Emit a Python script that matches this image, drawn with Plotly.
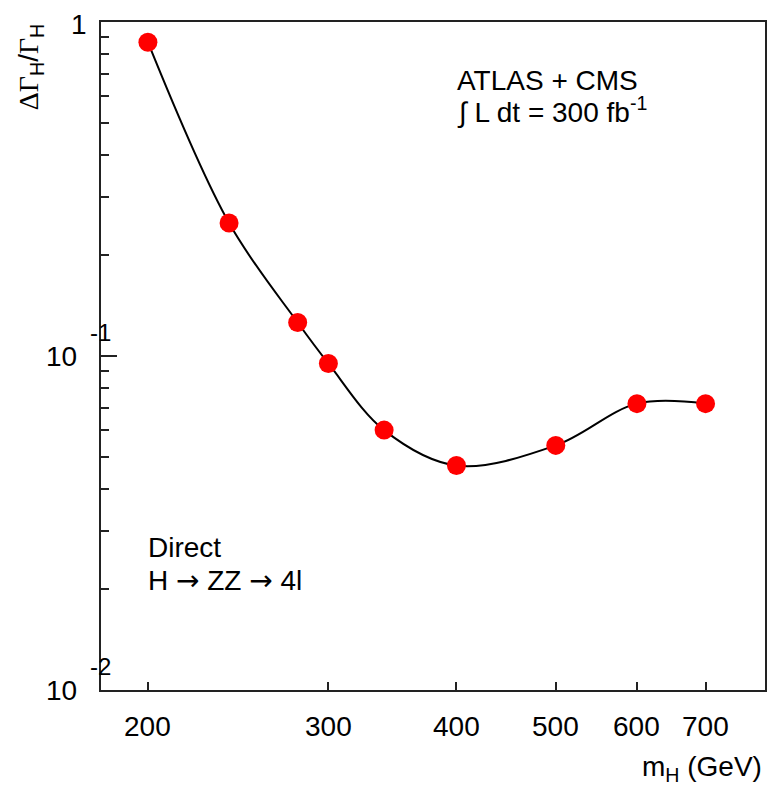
import math
import plotly.graph_objects as go

# ---- data ----
m_H = [200, 240, 280, 300, 340, 400, 500, 600, 700]
rel_width = [0.87, 0.25, 0.126, 0.095, 0.060, 0.047, 0.054, 0.072, 0.072]

x_tick_vals = [200, 300, 400, 500, 600, 700]
x_tick_text = ["200", "300", "400", "500", "600", "700"]
y_major_vals = [0.01, 0.1, 1]
y_mantissa = ["10", "10", "1"]
y_exponent = ["-2", "-1", ""]
y_minor_vals = [0.02, 0.03, 0.04, 0.05, 0.06, 0.07, 0.08, 0.09,
                0.2, 0.3, 0.4, 0.5, 0.6, 0.7, 0.8, 0.9]

FONT = "Liberation Sans, Arial, sans-serif"
FS = 28
W, H = 769, 785
L, R, T, B = 101, 2, 22, 95
PW, PH = W - L - R, H - T - B

def px(xp):
    return (xp - L) / PW

def py(yp):
    return (H - B - yp) / PH

fig = go.Figure()
fig.add_trace(go.Scatter(
    x=m_H, y=rel_width, mode="lines+markers",
    line=dict(color="black", width=2, shape="spline", smoothing=1.0),
    marker=dict(color="#ff0000", size=19, line=dict(width=0)),
    showlegend=False, hoverinfo="x+y",
))

axis_line = dict(showline=True, linecolor="#222", linewidth=2, mirror=True,
                 showgrid=False, zeroline=False, ticks="inside",
                 tickcolor="#222", tickwidth=1.5, showticklabels=False)

fig.update_xaxes(type="log", range=[math.log10(180), math.log10(800)],
                 tickvals=x_tick_vals, ticklen=8, **axis_line)
fig.update_yaxes(type="log", range=[-2, 0], tickvals=y_major_vals, ticklen=16,
                 minor=dict(tickvals=y_minor_vals, ticks="inside", ticklen=8,
                            tickcolor="#222", tickwidth=1.5),
                 **axis_line)

def f(size):
    return dict(size=size, family=FONT, color="black")

ann = []
for v, t in zip(x_tick_vals, x_tick_text):
    ann.append(dict(x=math.log10(v), xref="x", y=0, yref="paper", text=t,
                    showarrow=False, xanchor="center", yanchor="middle",
                    yshift=-36, font=f(FS)))
for v, m, e in zip(y_major_vals, y_mantissa, y_exponent):
    if e:
        ann.append(dict(x=0, xref="paper", y=math.log10(v), yref="y", text=m,
                        showarrow=False, xanchor="right", yanchor="middle",
                        xshift=-22, font=f(FS)))
        ann.append(dict(x=0, xref="paper", y=math.log10(v), yref="y",
                        text=f"<span style=\"font-size:24px\">{e}</span>",
                        showarrow=False, xanchor="left", yanchor="middle",
                        xshift=-13, yshift=24, font=f(24)))
    else:
        ann.append(dict(x=0, xref="paper", y=math.log10(v), yref="y", text=m,
                        showarrow=False, xanchor="right", yanchor="middle",
                        xshift=-12, yshift=-2, font=f(FS)))

serif = "font-family:'Liberation Serif', 'Times New Roman', serif"
arrow = "<span style=\"font-family:'DejaVu Sans'\">→</span>"
ann += [
    dict(x=px(31), y=py(67), xref="paper", yref="paper",
         text=f"<span style=\"{serif}\">ΔΓ</span><sub>H</sub>/<span style=\"{serif}\">Γ</span><sub>H</sub>",
         textangle=-90, showarrow=False, xanchor="center", yanchor="middle",
         font=f(FS)),
    dict(x=px(766), y=py(768), xref="paper", yref="paper",
         text="m<sub>H</sub> (GeV)", showarrow=False, xanchor="right", yanchor="middle",
         font=f(FS)),
    dict(x=px(456), y=py(81), xref="paper", yref="paper", text="ATLAS + CMS",
         showarrow=False, xanchor="left", yanchor="middle", font=f(FS)),
    dict(x=px(456), y=py(110), xref="paper", yref="paper",
         text="∫ L dt = 300 fb<sup>-1</sup>",
         showarrow=False, xanchor="left", yanchor="middle", font=f(FS)),
    dict(x=px(146), y=py(547), xref="paper", yref="paper", text="Direct",
         showarrow=False, xanchor="left", yanchor="middle", font=f(FS)),
    dict(x=px(146), y=py(580), xref="paper", yref="paper",
         text=f"H {arrow} ZZ {arrow} 4l",
         showarrow=False, xanchor="left", yanchor="middle", font=f(FS)),
]

fig.update_layout(width=W, height=H, margin=dict(l=L, r=R, t=T, b=B),
                  paper_bgcolor="white", plot_bgcolor="white",
                  annotations=ann, font=dict(family=FONT, color="black"))

fig.write_html("out.html")
